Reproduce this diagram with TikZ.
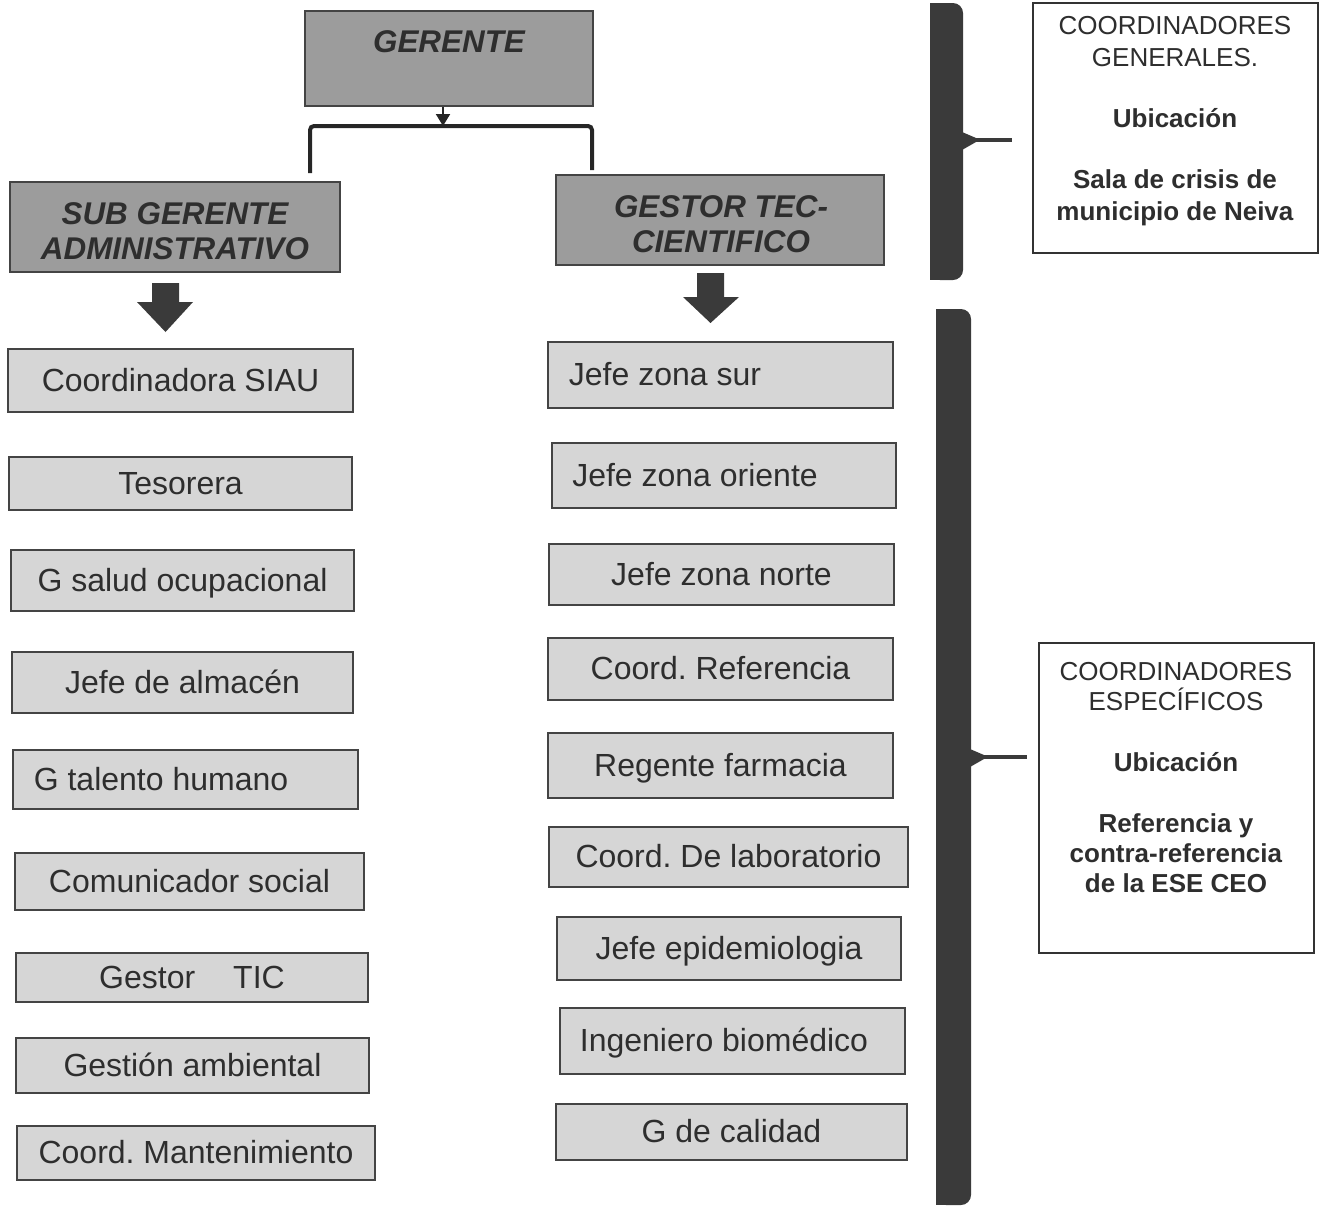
\documentclass[tikz,border=0pt]{standalone}
\usepackage{fontspec}
\setmainfont{Liberation Sans}
\usetikzlibrary{arrows.meta}
\definecolor{topgray}{HTML}{9C9C9C}
\definecolor{itemgray}{HTML}{D6D6D6}
\definecolor{edgegray}{HTML}{444444}
\definecolor{txtgray}{HTML}{2E2E2E}
\definecolor{bargray}{HTML}{3A3A3A}
\newcommand\shtxt[2]{\hspace*{#1}#2}
\frenchspacing
\begin{document}
\begin{tikzpicture}[x=0.5pt,y=-0.5pt,
 topbox/.style={draw=edgegray, line width=0.9pt, fill=topgray, inner sep=0pt},
 toptext/.style={text=txtgray, align=center, inner sep=0pt, font=\fontsize{15.7}{17.5}\selectfont\bfseries\itshape},
 itembox/.style={draw=edgegray, line width=0.8pt, fill=itemgray, inner sep=0pt, text=txtgray, text height=14pt, text depth=3.5pt, font=\fontsize{16}{18}\selectfont},
 infobox/.style={draw=black!80, line width=0.6pt, fill=white, inner sep=0pt},
 infotext/.style={text=txtgray, align=center, inner sep=0pt},
 bracket/.style={line width=2pt, draw=black!85, rounded corners=2pt},
 smallarrow/.style={line width=1pt, draw=black!85, -{Triangle[length=6pt,width=7pt]}},
 barshape/.style={fill=bargray, inner sep=0pt, rounded corners=5pt},
 tick/.style={line width=2pt, draw=bargray},
 blockarrow/.style={fill=bargray}
]
\useasboundingbox (0,0) rectangle (1322,1205);

% top level
\node[topbox, minimum width=144pt, minimum height=47.5pt] (ger) at (449,58.5) {};
\node[toptext] (gert) at (449,42) {GERENTE};
\node[topbox, minimum width=165pt, minimum height=45pt] (sub) at (175,227) {};
\node[toptext] (subt) at (175,231) {SUB GERENTE\\ADMINISTRATIVO};
\node[topbox, minimum width=164pt, minimum height=45pt] (ges) at (720,220) {};
\node[toptext] (gest) at (721,224) {GESTOR TEC-\\CIENTIFICO};

% bracket connector
\coordinate (junc) at (443,126);
\coordinate (bl) at (310,173);
\coordinate (br) at (592,170);
\draw[smallarrow] (ger.south -| junc) -- (junc);
\draw[bracket] (bl) |- (junc) -| (br);

% block arrows
\fill[blockarrow] (152,283) -- (179,283) -- (179,302) -- (193,302) -- (165.5,332) -- (137,302) -- (152,302) -- cycle;
\fill[blockarrow] (697,273) -- (724,273) -- (724,297) -- (739,297) -- (710.5,323) -- (683,297) -- (697,297) -- cycle;

% left column
\node[itembox, minimum width=172.5pt, minimum height=31.5pt] (l1) at (180.5,380.5) {Coordinadora SIAU};
\node[itembox, minimum width=171.5pt, minimum height=26.5pt] (l2) at (180.5,483.5) {Tesorera};
\node[itembox, minimum width=171.5pt, minimum height=30.5pt] (l3) at (182.5,580.5) {G salud ocupacional};
\node[itembox, minimum width=170.5pt, minimum height=30.5pt] (l4) at (182.5,682.5) {Jefe de almacén};
\node[itembox, minimum width=172.5pt, minimum height=29.5pt] (l5) at (185.5,779.5) {\shtxt{-24.5pt}{G talento humano}};
\node[itembox, minimum width=174.5pt, minimum height=28.5pt] (l6) at (189.5,881.5) {Comunicador social};
\node[itembox, minimum width=176pt, minimum height=24.5pt] (l7) at (192,977.5) {Gestor\hspace{19pt}TIC};
\node[itembox, minimum width=176.5pt, minimum height=27.5pt] (l8) at (192.5,1065.5) {Gestión ambiental};
\node[itembox, minimum width=179pt, minimum height=27pt] (l9) at (196,1153) {Coord. Mantenimiento};

% right column
\node[itembox, minimum width=172.5pt, minimum height=33pt] (r1) at (720.5,375) {\shtxt{-55.5pt}{Jefe zona sur}};
\node[itembox, minimum width=172pt, minimum height=32.5pt] (r2) at (724,475.5) {\shtxt{-29pt}{Jefe zona oriente}};
\node[itembox, minimum width=172.5pt, minimum height=30.5pt] (r3) at (721.5,574.5) {Jefe zona norte};
\node[itembox, minimum width=172.5pt, minimum height=31pt] (r4) at (720.5,669) {Coord. Referencia};
\node[itembox, minimum width=172.5pt, minimum height=32.5pt] (r5) at (720.5,765.5) {Regente farmacia};
\node[itembox, minimum width=179.5pt, minimum height=30pt] (r6) at (728.5,857) {Coord. De laboratorio};
\node[itembox, minimum width=172pt, minimum height=31.5pt] (r7) at (729,948.5) {Jefe epidemiologia};
\node[itembox, minimum width=172.5pt, minimum height=33pt] (r8) at (732.5,1041) {\shtxt{-8.5pt}{Ingeniero biomédico}};
\node[itembox, minimum width=175.5pt, minimum height=28pt] (r9) at (731.5,1132) {G de calidad};

% dark bars
\node[barshape, minimum width=16.5pt, minimum height=138.5pt] (barA) at (946.5,141.5) {};
\fill[bargray] (930,3) rectangle (947,280);
\node[barshape, minimum width=17.5pt, minimum height=448pt] (barB) at (953.5,757) {};
\fill[bargray] (936,309) rectangle (954,1205);
\coordinate (tickA) at (1012,140);
\coordinate (tickB) at (1027,757);
\draw[tick] (barA.east |- tickA) -- (tickA);
\draw[tick] (barB.east |- tickB) -- (tickB);
\fill[bargray] (962,132) -- (976,138) -- (976,142) -- (962,150) -- cycle;
\fill[bargray] (970,749) -- (984,755) -- (984,759) -- (970,767) -- cycle;

% info boxes
\node[infobox, minimum width=142.5pt, minimum height=125pt] (gen) at (1175.5,128) {};
\node[infotext, font=\fontsize{13}{16}\selectfont] (gent) at (1175,121) {COORDINADORES\\GENERALES.\\[14.5pt]\textbf{Ubicación}\\[14.5pt]\textbf{Sala de crisis de}\\\textbf{municipio de Neiva}};
\node[infobox, minimum width=137.5pt, minimum height=155pt] (esp) at (1176.5,798) {};
\node[infotext, font=\fontsize{13}{15}\selectfont] (espt) at (1176,778) {COORDINADORES\\ESPECÍFICOS\\[15.5pt]\textbf{Ubicación}\\[15.5pt]\textbf{Referencia y}\\\textbf{contra-referencia}\\\textbf{de la ESE CEO}};
\end{tikzpicture}
\end{document}
